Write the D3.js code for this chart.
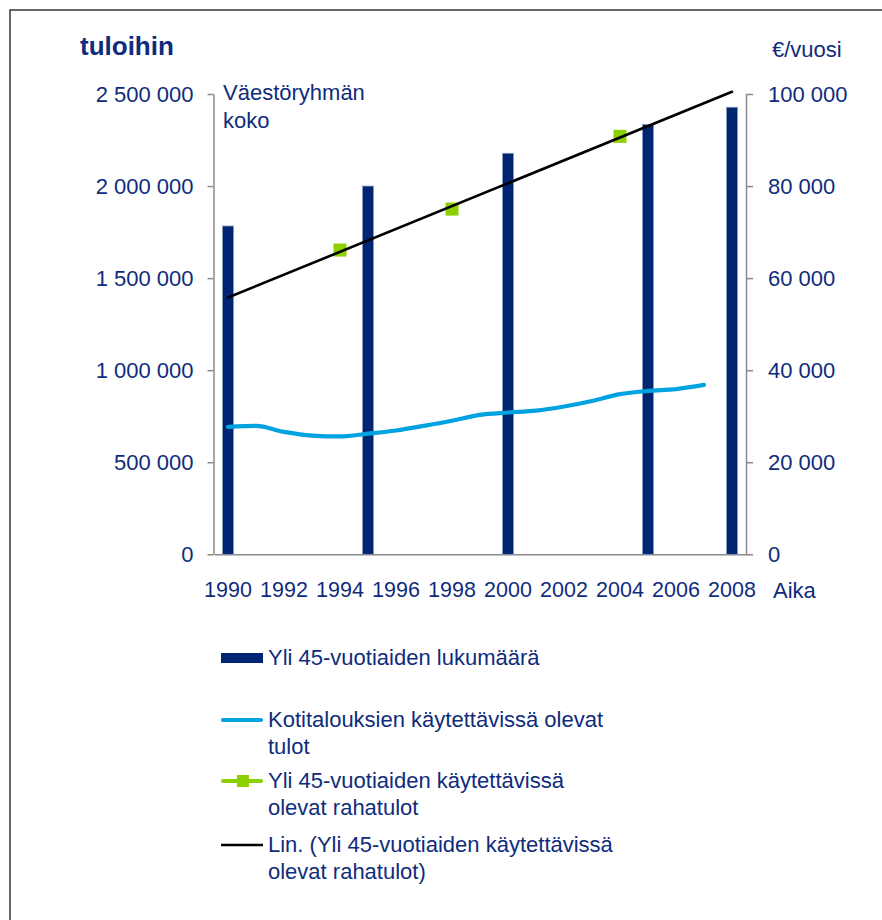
<!DOCTYPE html>
<html>
<head>
<meta charset="utf-8">
<script src="https://cdn.jsdelivr.net/npm/d3@7"></script>
<style>
  html, body { margin: 0; padding: 0; background: #fff; }
  svg { display: block; font-family: "Liberation Sans", Arial, sans-serif; }
</style>
</head>
<body>
<svg id="chart" width="882" height="920"></svg>
<script>
// Years on the category axis
const years = d3.range(1990, 2009);
const yearLabels = [1990, 1992, 1994, 1996, 1998, 2000, 2002, 2004, 2006, 2008];

// Population aged over 45 (left axis)
const popYears = [1990, 1995, 2000, 2005, 2008];
const popValues = [1783000, 2000000, 2178000, 2335000, 2428000];

// Household disposable income, €/year (right axis)
const hhYears = [1990, 1991, 1992, 1993, 1994, 1995, 1996, 1997, 1998, 1999, 2000, 2001, 2002, 2003, 2004, 2005, 2006, 2007];
const hhValues = [27700, 27900, 26600, 25800, 25600, 26200, 26900, 27900, 29000, 30300, 30800, 31200, 32100, 33300, 34800, 35500, 35900, 36800];

// Disposable money income of over-45s, €/year (right axis)
const over45Years = [1994, 1998, 2004];
const over45Values = [66100, 75000, 90800];

// Axis ticks
const leftTicks = [0, 500000, 1000000, 1500000, 2000000, 2500000];
const rightTicks = [0, 20000, 40000, 60000, 80000, 100000];

// Legend entries
const legendItems = [
  { kind: "bar", lines: ["Yli 45-vuotiaiden lukumäärä"] },
  { kind: "blue", lines: ["Kotitalouksien käytettävissä olevat", "tulot"] },
  { kind: "green", lines: ["Yli 45-vuotiaiden käytettävissä", "olevat rahatulot"] },
  { kind: "trend", lines: ["Lin. (Yli 45-vuotiaiden käytettävissä", "olevat rahatulot)"] }
];

const TEXT = "#0F2C7C";
const BAR = "#002673";
const BLUE = "#00A2E0";
const GREEN = "#8CD000";
const AXIS = "#8A8A8A";

const svg = d3.select("#chart");

// outer frame
svg.append("rect")
  .attr("x", 10).attr("y", 10).attr("width", 900).attr("height", 950)
  .attr("fill", "none").attr("stroke", "#333").attr("stroke-width", 1.5);

const plot = { left: 214, right: 746, top: 94, bottom: 554.3 };

const x = d3.scaleBand().domain(years).range([plot.left, plot.right]).padding(0);
const cx = yr => x(yr) + x.bandwidth() / 2;
const yL = d3.scaleLinear().domain([0, 2500000]).range([plot.bottom, plot.top]);
const yR = d3.scaleLinear().domain([0, 100000]).range([plot.bottom, plot.top]);

const locale = d3.formatLocale({ decimal: ",", thousands: "\u00a0", grouping: [3], currency: ["", " €"] });
const fmt = locale.format(",d");

// left axis
const gL = svg.append("g").attr("transform", `translate(${plot.left - 0.5},0)`)
  .call(d3.axisLeft(yL).tickValues(leftTicks).tickFormat(fmt).tickSizeInner(6).tickSizeOuter(0).tickPadding(14));
// right axis
const gR = svg.append("g").attr("transform", `translate(${plot.right},0)`)
  .call(d3.axisRight(yR).tickValues(rightTicks).tickFormat(fmt).tickSizeInner(7).tickSizeOuter(0).tickPadding(15));
[gL, gR].forEach(g => {
  g.select(".domain").attr("stroke", AXIS).attr("stroke-width", 1.5);
  g.selectAll(".tick line").attr("stroke", AXIS).attr("stroke-width", 1.5);
  g.selectAll(".tick text").attr("fill", TEXT).attr("font-size", 22).attr("font-family", "Liberation Sans, Arial, sans-serif");
});

// bottom axis
const gB = svg.append("g").attr("transform", `translate(0,${plot.bottom})`)
  .call(d3.axisBottom(x).tickValues(yearLabels).tickSize(0).tickPadding(27));
gB.select(".domain").attr("stroke", AXIS).attr("stroke-width", 1.5);
gB.selectAll(".tick text").attr("fill", TEXT).attr("font-size", 21.5).attr("font-family", "Liberation Sans, Arial, sans-serif");

// bars
const barW = 11;
svg.append("g").selectAll("rect")
  .data(popYears.map((yr, i) => ({ yr, v: popValues[i] })))
  .join("rect")
  .attr("x", d => cx(d.yr) - barW / 2)
  .attr("y", d => yL(d.v))
  .attr("width", barW)
  .attr("height", d => yL(0) - yL(d.v))
  .attr("fill", BAR)
  .attr("stroke", "#8896B8").attr("stroke-width", 0.8);

// household income line
const hhLine = d3.line().x(d => cx(d.yr)).y(d => yR(d.v)).curve(d3.curveMonotoneX);
svg.append("path")
  .datum(hhYears.map((yr, i) => ({ yr, v: hhValues[i] })))
  .attr("d", hhLine)
  .attr("fill", "none").attr("stroke", BLUE).attr("stroke-width", 4.2)
  .attr("stroke-linecap", "round").attr("stroke-linejoin", "round");

// linear trend of over-45 income (least squares)
const mx = d3.mean(over45Years), my = d3.mean(over45Values);
const slope = d3.sum(over45Years, (v, i) => (v - mx) * (over45Values[i] - my)) / d3.sum(over45Years, v => (v - mx) ** 2);
const trendAt = yr => my + slope * (yr - mx);

// over-45 income markers
svg.append("g").selectAll("rect")
  .data(over45Years.map((yr, i) => ({ yr, v: over45Values[i] })))
  .join("rect")
  .attr("x", d => cx(d.yr) - 6.5)
  .attr("y", d => yR(d.v) - 6.5)
  .attr("width", 13).attr("height", 13)
  .attr("fill", GREEN);

svg.append("line")
  .attr("x1", cx(1990)).attr("y1", yR(trendAt(1990)))
  .attr("x2", cx(2008)).attr("y2", yR(trendAt(2008)))
  .attr("stroke", "#000").attr("stroke-width", 2.6).attr("stroke-linecap", "round");

// titles
svg.append("text").attr("x", 80).attr("y", 55)
  .attr("fill", TEXT).attr("font-size", 26).attr("font-weight", "bold").text("tuloihin");
svg.append("text").attr("x", 772).attr("y", 57)
  .attr("fill", TEXT).attr("font-size", 22).text("€/vuosi");
const popTitle = svg.append("text").attr("x", 223).attr("y", 100)
  .attr("fill", TEXT).attr("font-size", 22);
popTitle.append("tspan").attr("x", 223).attr("y", 100).text("Väestöryhmän");
popTitle.append("tspan").attr("x", 223).attr("y", 128).text("koko");
svg.append("text").attr("x", 773).attr("y", 598)
  .attr("fill", TEXT).attr("font-size", 22).text("Aika");

// legend
const legendRows = [665, 727, 788, 852];
const lg = svg.append("g");
legendItems.forEach((item, i) => {
  const base = legendRows[i];
  const my = base - 7;
  if (item.kind === "bar") {
    lg.append("rect").attr("x", 221).attr("y", my - 5).attr("width", 42).attr("height", 10).attr("fill", BAR);
  } else if (item.kind === "blue") {
    lg.append("line").attr("x1", 223).attr("x2", 261).attr("y1", my).attr("y2", my)
      .attr("stroke", BLUE).attr("stroke-width", 4.2).attr("stroke-linecap", "round");
  } else if (item.kind === "green") {
    lg.append("line").attr("x1", 223).attr("x2", 261).attr("y1", my).attr("y2", my)
      .attr("stroke", GREEN).attr("stroke-width", 4.2).attr("stroke-linecap", "round");
    lg.append("rect").attr("x", 237).attr("y", my - 6).attr("width", 12).attr("height", 12).attr("fill", GREEN);
  } else {
    lg.append("line").attr("x1", 221).attr("x2", 263).attr("y1", my).attr("y2", my)
      .attr("stroke", "#000").attr("stroke-width", 2.4);
  }
  item.lines.forEach((t, j) => {
    lg.append("text").attr("x", 268).attr("y", base + j * 26.5)
      .attr("fill", TEXT).attr("font-size", 22).text(t);
  });
});
</script>
</body>
</html>
